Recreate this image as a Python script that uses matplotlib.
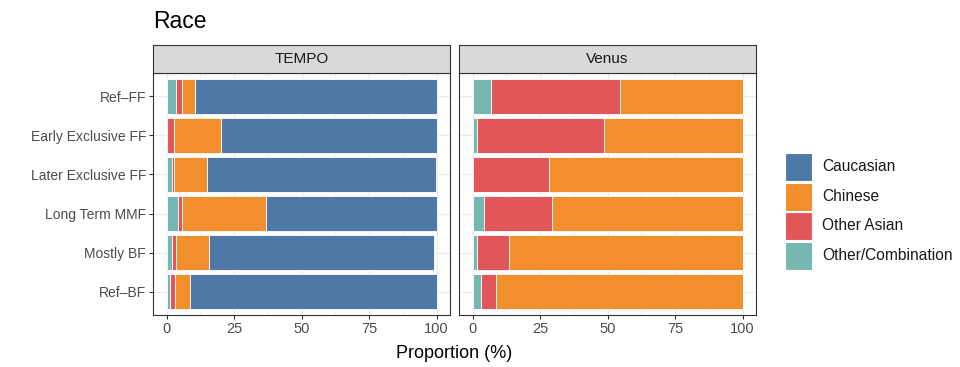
import matplotlib.pyplot as plt
from matplotlib.patches import Rectangle
import numpy as np

plt.rcParams['font.family'] = ['Liberation Sans', 'DejaVu Sans']

groups = ["Ref–FF", "Early Exclusive FF", "Later Exclusive FF",
          "Long Term MMF", "Mostly BF", "Ref–BF"]
races = ["Other/Combination", "Other Asian", "Chinese", "Caucasian"]
colors = {"Caucasian": "#4E79A7", "Chinese": "#F28E2B",
          "Other Asian": "#E15759", "Other/Combination": "#76B7B2"}
legend_order = ["Caucasian", "Chinese", "Other Asian", "Other/Combination"]

# proportions (%) per group, in the order of `groups`
tempo = {
    "Other/Combination": [3.7, 0.3, 2.0, 4.4, 2.0, 1.4],
    "Other Asian":       [2.0, 2.5, 0.7, 1.4, 1.4, 1.6],
    "Chinese":           [4.8, 17.3, 12.2, 31.2, 12.5, 5.8],
    "Caucasian":         [89.5, 79.9, 85.1, 63.0, 83.1, 91.2],
}
venus = {
    "Other/Combination": [6.8, 1.5, 0.0, 4.3, 1.5, 3.0],
    "Other Asian":       [47.7, 47.3, 28.3, 25.0, 12.0, 5.6],
    "Chinese":           [45.5, 51.2, 71.7, 70.7, 86.5, 91.4],
    "Caucasian":         [0.0, 0.0, 0.0, 0.0, 0.0, 0.0],
}
panels = [("TEMPO", tempo), ("Venus", venus)]

W, H = 960, 367
fig = plt.figure(figsize=(W / 100, H / 100), dpi=100)


def box(x0, y0, x1, y1):
    # pixel box -> figure fraction rect
    return [x0 / W, 1 - y1 / H, (x1 - x0) / W, (y1 - y0) / H]


panel_x = [(153, 450), (459, 756)]
top, bottom, strip_top = 73, 315, 45
ypos = np.arange(len(groups))[::-1]

for i, ((name, data), (x0, x1)) in enumerate(zip(panels, panel_x)):
    ax = fig.add_axes(box(x0, top, x1, bottom))
    left = np.zeros(len(groups))
    for r in races:
        vals = np.array(data[r])
        ax.barh(ypos, vals, left=left, height=0.9, color=colors[r],
                edgecolor="white", linewidth=0.6, zorder=2)
        left += vals
    ax.set_xlim(-5, 105)
    ax.set_ylim(-0.6, len(groups) - 0.4)
    ax.set_xticks([0, 25, 50, 75, 100])
    ax.set_xticks([12.5, 37.5, 62.5, 87.5], minor=True)
    ax.set_yticks(ypos)
    ax.set_yticklabels(groups if i == 0 else [])
    ax.grid(which="major", color="#EBEBEB", linewidth=1.0, zorder=0)
    ax.grid(which="minor", axis="x", color="#EBEBEB", linewidth=0.5, zorder=0)
    ax.set_axisbelow(True)
    for s in ax.spines.values():
        s.set_color("#333333")
        s.set_linewidth(0.8)
    ax.tick_params(axis="both", which="major", length=3, color="#333333",
                   labelsize=10, labelcolor="#4D4D4D", pad=2)
    ax.tick_params(axis="x", labelsize=10.5)
    ax.tick_params(axis="y", length=3 if i == 0 else 0)
    ax.tick_params(which="minor", length=0)

    sax = fig.add_axes(box(x0, strip_top, x1, top))
    sax.set_xticks([])
    sax.set_yticks([])
    sax.set_facecolor("#D9D9D9")
    for s in sax.spines.values():
        s.set_color("#333333")
        s.set_linewidth(0.8)
    sax.text(0.5, 0.5, name, ha="center", va="center", fontsize=11,
             color="#1A1A1A", transform=sax.transAxes)

fig.text(153 / W, 1 - 22 / H, "Race", fontsize=16.5, ha="left", va="center",
         color="black")
fig.text(454 / W, 1 - 354 / H, "Proportion (%)", fontsize=13, ha="center",
         va="center", color="black")

# legend
for k, r in enumerate(legend_order):
    yc = 167 + k * 29.5
    fig.patches.append(Rectangle((785 / W, 1 - (yc + 14) / H), 27 / W, 28 / H,
                                 transform=fig.transFigure, facecolor=colors[r],
                                 edgecolor="white", linewidth=0.8))
    fig.text(822 / W, 1 - yc / H, r, fontsize=11.2, ha="left", va="center",
             color="#1A1A1A")

fig.savefig("out.png", dpi=100)
